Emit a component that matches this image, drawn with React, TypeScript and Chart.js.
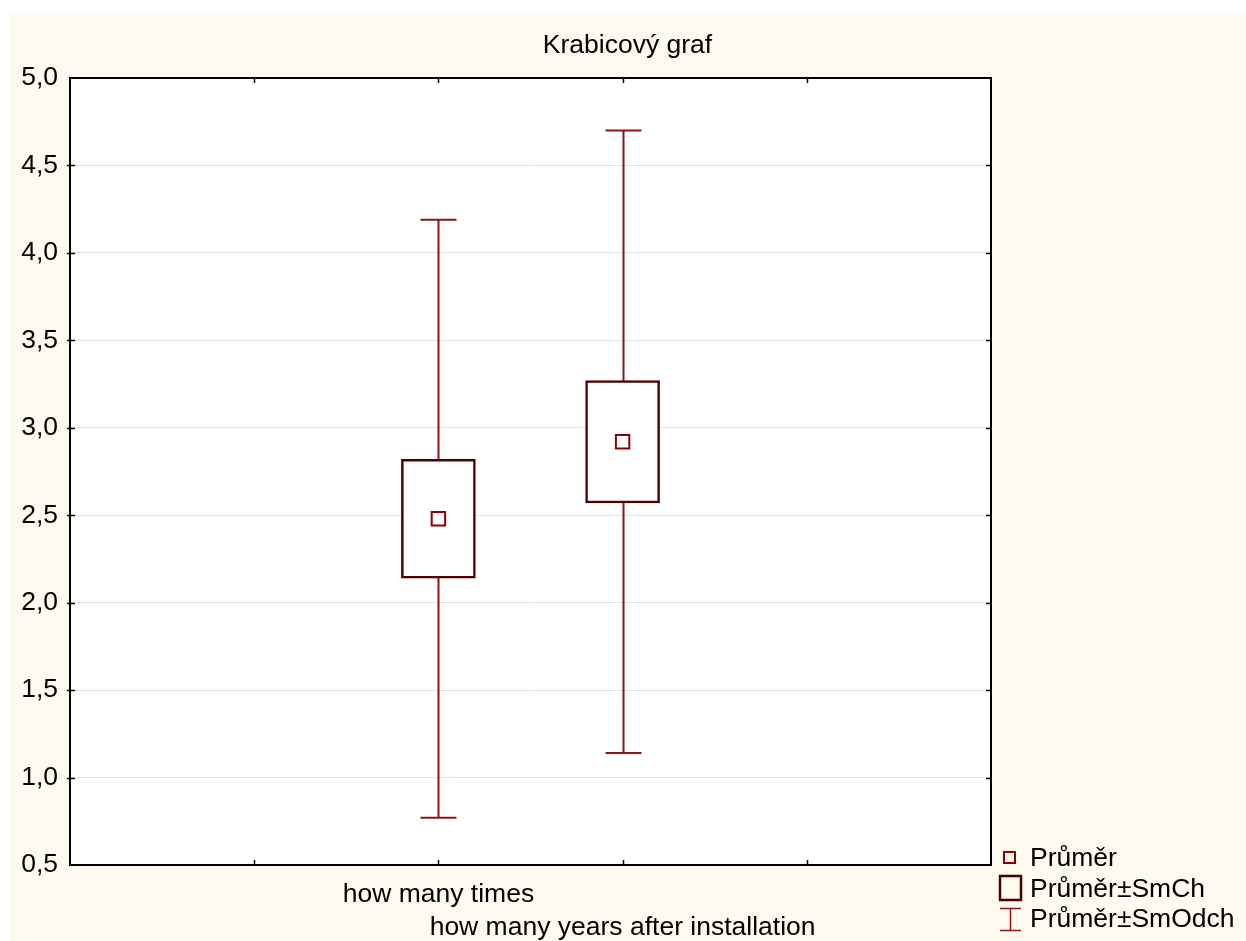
import React, { useEffect, useRef } from "react";
import { Chart, registerables } from "chart.js";

Chart.register(...registerables);

const title = "Krabicový graf";
const categories = ["how many times", "how many years after installation"];
const categoryPositions = [2, 3];
const means = [2.48, 2.92];
const boxLow = [2.14, 2.57];
const boxHigh = [2.82, 3.27];
const whiskerLow = [0.77, 1.14];
const whiskerHigh = [4.19, 4.7];
const legendLabels = ["Průměr", "Průměr±SmCh", "Průměr±SmOdch"];

const FONT = "'Liberation Sans', Arial, sans-serif";
const FSIZE = 26.5;
const CREAM = "#fffaef";
const WHISKER = "#8e1414";
const BOXC = "#4a0000";
const MEANC = "#8b0000";

const W = 1237;
const H = 928;

const boxPlugin = {
  id: "boxDeco",
  beforeDraw(chart: any) {
    const { ctx, chartArea } = chart;
    ctx.save();
    ctx.fillStyle = "#ffffff";
    ctx.fillRect(chartArea.left, chartArea.top, chartArea.right - chartArea.left, chartArea.bottom - chartArea.top);
    ctx.restore();
  },
  beforeDatasetsDraw(chart: any) {
    const { ctx } = chart;
    const xs = chart.scales.x;
    const ys = chart.scales.y;
    ctx.save();
    ctx.strokeStyle = WHISKER;
    ctx.lineWidth = 2;
    categoryPositions.forEach((p, i) => {
      const x = Math.round(xs.getPixelForValue(p)) + 0.5;
      const y1 = ys.getPixelForValue(whiskerLow[i]);
      const y2 = ys.getPixelForValue(whiskerHigh[i]);
      ctx.beginPath();
      ctx.moveTo(x, y1);
      ctx.lineTo(x, y2);
      ctx.moveTo(x - 18, y1);
      ctx.lineTo(x + 18, y1);
      ctx.moveTo(x - 18, y2);
      ctx.lineTo(x + 18, y2);
      ctx.stroke();
    });
    ctx.restore();
  },
  afterDraw(chart: any) {
    const { ctx, chartArea } = chart;
    const xs = chart.scales.x;
    const ys = chart.scales.y;
    ctx.save();
    // title
    ctx.font = `${FSIZE}px ${FONT}`;
    ctx.fillStyle = "#000";
    ctx.textAlign = "center";
    ctx.textBaseline = "middle";
    ctx.fillText(title, chart.width / 2, 33);
    // inside tick marks
    ctx.strokeStyle = "#000";
    ctx.lineWidth = 1.5;
    ctx.beginPath();
    xs.ticks.forEach((t: any) => {
      if (t.value <= xs.min || t.value >= xs.max) return;
      const x = Math.round(xs.getPixelForValue(t.value)) + 0.5;
      ctx.moveTo(x, chartArea.top);
      ctx.lineTo(x, chartArea.top + 5);
      ctx.moveTo(x, chartArea.bottom);
      ctx.lineTo(x, chartArea.bottom - 5);
    });
    ys.ticks.forEach((t: any) => {
      if (t.value <= ys.min || t.value >= ys.max) return;
      const y = Math.round(ys.getPixelForValue(t.value)) + 0.5;
      ctx.moveTo(chartArea.left - 3, y);
      ctx.lineTo(chartArea.left + 5, y);
      ctx.moveTo(chartArea.right, y);
      ctx.lineTo(chartArea.right - 5, y);
    });
    ctx.stroke();
    // frame
    ctx.lineWidth = 2;
    ctx.strokeRect(chartArea.left, chartArea.top, chartArea.right - chartArea.left, chartArea.bottom - chartArea.top);

    // legend
    ctx.font = `${FSIZE}px ${FONT}`;
    ctx.fillStyle = "#000";
    ctx.textBaseline = "middle";
    ctx.textAlign = "left";
    const tx = 1021;
    const rows = [846, 877, 907];
    legendLabels.forEach((l, i) => ctx.fillText(l, tx, rows[i]));
    // mean marker
    ctx.strokeStyle = MEANC;
    ctx.lineWidth = 2;
    ctx.strokeRect(995, 839, 11, 11);
    // box marker
    ctx.strokeStyle = BOXC;
    ctx.lineWidth = 2.5;
    ctx.strokeRect(991, 863, 21, 24);
    // whisker marker
    ctx.strokeStyle = WHISKER;
    ctx.lineWidth = 1.5;
    ctx.beginPath();
    ctx.moveTo(1001.5, 895);
    ctx.lineTo(1001.5, 918);
    ctx.moveTo(991, 895.5);
    ctx.lineTo(1012, 895.5);
    ctx.moveTo(991, 917.5);
    ctx.lineTo(1012, 917.5);
    ctx.stroke();
    ctx.restore();
  },
};

export default function App() {
  const ref = useRef<HTMLCanvasElement | null>(null);
  useEffect(() => {
    if (!ref.current) return;
    document.body.style.overflow = "hidden";
    Chart.defaults.font.family = FONT;
    const chart = new Chart(ref.current, {
      type: "bar",
      data: {
        datasets: [
          {
            type: "scatter",
            label: legendLabels[0],
            data: categoryPositions.map((p, i) => ({ x: p, y: means[i] })),
            pointStyle: "rect",
            pointRadius: 9.5,
            pointBorderWidth: 2,
            pointBorderColor: MEANC,
            pointBackgroundColor: "#ffffff",
            order: 0,
          } as any,
          {
            type: "bar",
            label: legendLabels[1],
            data: categoryPositions.map((p, i) => ({ x: p, y: [boxLow[i], boxHigh[i]] })) as any,
            backgroundColor: "#ffffff",
            borderColor: BOXC,
            borderWidth: 2.5,
            borderSkipped: false,
            barThickness: 74,
            grouped: false,
            order: 1,
          } as any,
        ],
      },
      options: {
        animation: false,
        responsive: false,
        maintainAspectRatio: false,
        layout: { padding: { left: 0, right: 255, top: 65, bottom: 0 } },
        plugins: {
          legend: { display: false },
          tooltip: { enabled: false },
          title: { display: false },
        },
        scales: {
          x: {
            type: "linear",
            min: 0,
            max: 5,
            offset: false,
            grid: { display: false, drawTicks: false },
            border: { display: false },
            afterFit: (s: any) => {
              s.height = 76;
            },
            ticks: {
              stepSize: 1,
              autoSkip: false,
              maxRotation: 0,
              minRotation: 0,
              padding: 14,
              color: "#000",
              font: { size: FSIZE, family: FONT, lineHeight: 1.22 },
              callback: (v: any) => {
                const idx = categoryPositions.indexOf(Number(v));
                if (idx < 0) return "";
                return idx === 0 ? categories[0] : ["", categories[1]];
              },
            },
          },
          y: {
            type: "linear",
            min: 0.5,
            max: 5,
            grid: { color: "#e2e2e2", lineWidth: 1, drawTicks: false },
            border: { display: false },
            afterFit: (s: any) => {
              s.width = 61;
            },
            ticks: {
              stepSize: 0.5,
              padding: 12,
              color: "#000",
              font: { size: FSIZE, family: FONT },
              callback: (v: any) => Number(v).toFixed(1).replace(".", ","),
            },
          },
        },
      } as any,
      plugins: [boxPlugin],
    });
    return () => chart.destroy();
  }, []);
  return (
    <div style={{ position: "fixed", left: 9, top: 13, width: W, height: H, background: CREAM }}>
      <canvas ref={ref} width={W} height={H} style={{ width: W, height: H, display: "block" }} />
    </div>
  );
}
